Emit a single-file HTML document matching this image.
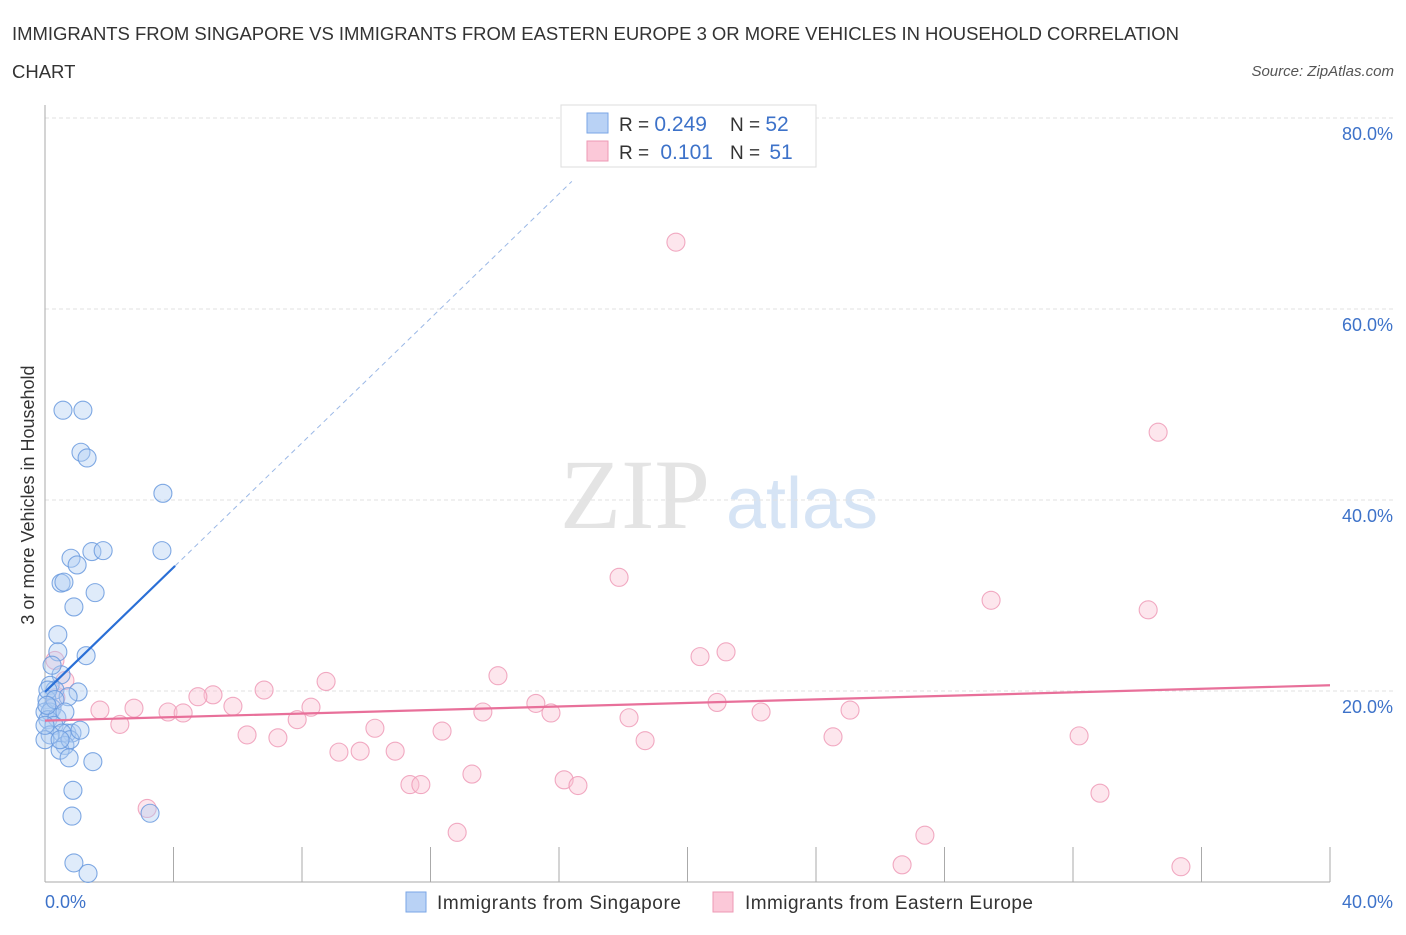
<!DOCTYPE html>
<html><head><meta charset="utf-8"><style>
body{margin:0;background:#fff;font-family:"Liberation Sans",sans-serif;}
svg text{font-family:"Liberation Sans",sans-serif;}
</style></head><body>
<svg id="c" width="1406" height="930" xmlns="http://www.w3.org/2000/svg">
<text x="12" y="40" font-size="18.5" fill="#333" textLength="1167">IMMIGRANTS FROM SINGAPORE VS IMMIGRANTS FROM EASTERN EUROPE 3 OR MORE VEHICLES IN HOUSEHOLD CORRELATION</text>
<text x="12" y="78" font-size="18.5" fill="#333">CHART</text>
<text x="1394" y="76" font-size="15" fill="#555" font-style="italic" text-anchor="end">Source: ZipAtlas.com</text>
<text x="635" y="528" font-size="100" fill="#e4e4e4" text-anchor="middle" style="font-family:'Liberation Serif',serif">ZIP</text>
<text x="802" y="528" font-size="72" fill="#d6e4f5" text-anchor="middle">atlas</text>
<g id="grid"></g><g id="axes"></g><g id="pts"></g><g id="lines"></g>
<text x="34" y="495" font-size="18" fill="#333" text-anchor="middle" transform="rotate(-90 34 495)">3 or more Vehicles in Household</text>
<text x="45" y="908" font-size="18" fill="#3d72c9">0.0%</text>
<text x="1393" y="908" font-size="18" fill="#3d72c9" text-anchor="end">40.0%</text>
<g>
<rect x="406" y="892" width="20" height="20" fill="#b9d2f5" stroke="#7aa6e6"/>
<text x="437" y="909" font-size="19" fill="#333" textLength="244">Immigrants from Singapore</text>
<rect x="713" y="892" width="20" height="20" fill="#fbc8d8" stroke="#ee99b4"/>
<text x="745" y="909" font-size="19" fill="#333" textLength="288">Immigrants from Eastern Europe</text>
</g>
<g>
<rect x="561" y="105" width="255" height="62" fill="#fff" stroke="#ddd"/>
<rect x="587" y="113" width="21" height="20" fill="#b9d2f5" stroke="#7aa6e6"/>
<rect x="587" y="141" width="21" height="20" fill="#fbc8d8" stroke="#ee99b4"/>
<text x="619" y="131" font-size="19" fill="#333">R = <tspan fill="#3d72c9" font-size="21">0.249</tspan></text>
<text x="730" y="131" font-size="19" fill="#333">N = <tspan fill="#3d72c9" font-size="21">52</tspan></text>
<text x="619" y="159" font-size="19" fill="#333">R = <tspan fill="#3d72c9" font-size="21" dx="6">0.101</tspan></text>
<text x="730" y="159" font-size="19" fill="#333">N = <tspan fill="#3d72c9" font-size="21" dx="4">51</tspan></text>
</g>
</svg>
<script>
const yTicks=[20,40,60,80];
const xTicks=[0,4,8,12,16,20,24,28,32,36,40];
const blueX=[0.56,1.18,1.12,1.31,3.67,3.64,1.46,1.81,0.81,1.0,0.5,0.59,1.56,0.9,0.4,0.4,1.28,0.5,0.16,0.31,1.03,0.72,0.06,0.22,0,0.16,0.09,0.37,0.28,0.68,0.84,0.53,0.62,0.47,0.75,1.49,0.87,0.84,3.27,0.9,1.34,0.16,0,0.78,0.09,0.31,1.09,0.47,0.22,0.06,0.62,0];
const blueY=[49.4,49.4,45.0,44.4,40.7,34.7,34.6,34.7,33.9,33.2,31.3,31.4,30.3,28.8,25.9,24.1,23.7,21.7,20.6,20.1,19.9,19.4,19.1,18.2,17.8,17.8,17.0,17.2,16.4,15.6,15.6,15.6,14.3,13.8,13.0,12.6,9.6,6.9,7.2,2.0,0.9,15.4,14.9,14.9,20.1,19.1,15.9,14.9,22.7,18.5,17.8,16.4];
const pinkX=[19.64,34.65,17.87,29.45,34.34,21.2,20.39,14.1,8.75,6.82,5.23,4.76,20.92,15.28,0.34,2.77,1.71,5.85,8.28,25.06,3.83,4.3,13.63,22.29,15.75,7.85,18.18,2.33,10.27,12.36,6.29,7.25,24.53,32.19,18.68,9.15,9.81,10.9,13.29,16.16,16.59,11.36,11.7,32.84,3.18,12.83,27.39,26.68,35.36,0.31,0.62];
const pinkY=[67.0,47.1,31.9,29.5,28.5,24.1,23.6,21.6,21.0,20.1,19.6,19.4,18.8,18.7,19.3,18.2,18.0,18.4,18.3,18.0,17.8,17.7,17.8,17.8,17.7,17.0,17.2,16.5,16.1,15.8,15.4,15.1,15.2,15.3,14.8,13.6,13.7,13.7,11.3,10.7,10.1,10.2,10.2,9.3,7.7,5.2,4.9,1.8,1.6,23.2,21.1];
const blueTrend=[19.9,3.26];
const pinkTrend=[16.9,0.0925];
const X=v=>45+v/40*1285, Y=v=>882-v*9.55;
const NS="http://www.w3.org/2000/svg";
function mk(p,tag,a){const e=document.createElementNS(NS,tag);for(const k in a)e.setAttribute(k,a[k]);p.appendChild(e);return e;}
const g=document.getElementById('grid'),ax=document.getElementById('axes'),pts=document.getElementById('pts'),ln=document.getElementById('lines');
yTicks.forEach(t=>{const l=mk(g,'line',{x1:45,x2:1393,y1:Y(t),y2:Y(t),stroke:'#e2e2e2','stroke-dasharray':'4,3'});


const tx=mk(g,'text',{x:1393,y:Y(t)+22,'font-size':18,fill:'#3d72c9','text-anchor':'end'});tx.textContent=t.toFixed(1)+'%';

});
const yl=mk(ax,'line',{x1:45,x2:45,y1:105,y2:882,stroke:'#aaa'});


const xl=mk(ax,'line',{x1:45,x2:1330,y1:882,y2:882,stroke:'#aaa'});


xTicks.forEach(t=>{const l=mk(ax,'line',{x1:X(t),x2:X(t),y1:882,y2:847,stroke:'#aaa'});

});
function dots(xs,ys,fill,stroke,name){xs.forEach((x,i)=>{const c=mk(pts,'circle',{cx:X(x),cy:Y(ys[i]),r:9,fill:fill,'fill-opacity':0.4,stroke:stroke,'stroke-width':1.1,'stroke-opacity':0.85});

});}
dots(pinkX,pinkY,'#f9c0d2','#ee9bb7','point-eastern-europe');
dots(blueX,blueY,'#b0cdf3','#6a9ade','point-singapore');
const bS=mk(ln,'line',{x1:X(0),y1:Y(blueTrend[0]),x2:X(4.05),y2:Y(blueTrend[0]+blueTrend[1]*4.05),stroke:'#2a6fd6','stroke-width':2.2});


const bD=mk(ln,'line',{x1:X(4.05),y1:Y(blueTrend[0]+blueTrend[1]*4.05),x2:X(16.4),y2:Y(blueTrend[0]+blueTrend[1]*16.4),stroke:'#9bb8e6','stroke-width':1,'stroke-dasharray':'5,4'});


const pL=mk(ln,'line',{x1:X(0),y1:Y(pinkTrend[0]),x2:X(40),y2:Y(pinkTrend[0]+pinkTrend[1]*40),stroke:'#e8709a','stroke-width':2.2});


</script>
</body></html>
